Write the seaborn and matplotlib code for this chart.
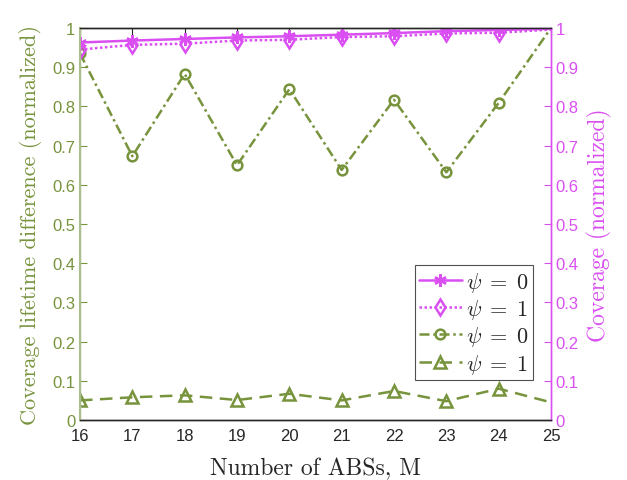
import numpy as np
import pandas as pd
import matplotlib
matplotlib.use("Agg")
import matplotlib.pyplot as plt
from matplotlib.lines import Line2D
import seaborn as sns

# Number of ABSs
num_abs = [16, 17, 18, 19, 20, 21, 22, 23, 24, 25]

# Coverage (normalized), right axis
coverage_psi0 = [0.963, 0.968, 0.972, 0.976, 0.979, 0.983, 0.987, 0.992, 0.995, 0.998]
coverage_psi1 = [0.945, 0.957, 0.960, 0.968, 0.970, 0.977, 0.979, 0.986, 0.988, 0.996]

# Coverage lifetime difference (normalized), left axis
lifetime_psi0 = [0.935, 0.673, 0.883, 0.650, 0.844, 0.638, 0.817, 0.632, 0.809, 1.000]
lifetime_psi1 = [0.050, 0.058, 0.063, 0.051, 0.067, 0.050, 0.074, 0.048, 0.080, 0.045]

legend_labels = [r"$\psi\;=\;0$", r"$\psi\;=\;1$", r"$\psi\;=\;0$", r"$\psi\;=\;1$"]

GREEN = "#77933C"
GREEN_LIGHT = "#A9BE8C"
PINK = "#DA4FF2"

sns.set_theme(style="white")
plt.rcParams["font.family"] = ["Liberation Sans", "DejaVu Sans"]
plt.rcParams["mathtext.fontset"] = "cm"

df = pd.DataFrame({
    "M": num_abs,
    "cov0": coverage_psi0,
    "cov1": coverage_psi1,
    "life0": lifetime_psi0,
    "life1": lifetime_psi1,
})

fig = plt.figure(figsize=(6.27, 4.81), dpi=100)
ax = fig.add_axes([0.1276, 0.1247, 0.7512, 0.815])
ax2 = ax.twinx()

marks = list(range(len(num_abs) - 1))

# series styles: (axis, column, colour, linestyle, marker, markersize, filled)
styles = [
    (ax2, "cov0", PINK, "-", (6, 2, 0), 9, True),
    (ax2, "cov1", PINK, (0, (1, 1)), "d", 8, False),
    (ax, "life0", GREEN, (0, (4, 1.5, 1, 1.5)), "o", 7, False),
    (ax, "life1", GREEN, (0, (5, 3)), "^", 8, False),
]

proxies = []
for (a, col, c, ls, mk, ms, filled), lab in zip(styles, legend_labels):
    kw = dict(color=c, lw=1.8, linestyle=ls, marker=mk, markersize=ms,
              markeredgecolor=c, markeredgewidth=1.8,
              markerfacecolor=c if filled else "none")
    sns.lineplot(data=df, x="M", y=col, ax=a, markevery=marks, legend=False, **kw)
    proxies.append(Line2D([], [], **kw))

for a in (ax, ax2):
    a.set_xlim(16, 25)
    a.set_ylim(0, 1)
    a.set_yticks(np.arange(0, 1.01, 0.1))
    a.set_yticklabels(["0"] + [f"{v:.1f}" for v in np.arange(0.1, 0.95, 0.1)] + ["1"])

ax.set_xticks(num_abs)
ax.set_xticklabels([str(m) for m in num_abs])

ax.tick_params(axis="x", direction="in", length=5, width=0.8, colors="#262626",
               labelsize=12, top=True, pad=6)
ax.tick_params(axis="y", direction="in", length=5, width=0.8, colors=GREEN,
               labelsize=12, left=True, right=False)
ax2.tick_params(axis="y", direction="in", length=5, width=0.8, colors=PINK,
                labelsize=12, right=True, left=False)

for a in (ax, ax2):
    for s in a.spines.values():
        s.set_linewidth(1.0)
    a.spines["top"].set_color("#262626")
    a.spines["bottom"].set_color("#262626")
    a.spines["left"].set_color(GREEN_LIGHT)
    a.spines["right"].set_color(PINK)
ax2.spines["left"].set_linewidth(1.5)

ax.set_xlabel("Number of ABSs, M", fontname="cmr10", fontsize=17, color="#262626", labelpad=10)
ax.set_ylabel("Coverage lifetime difference (normalized)", fontname="cmr10",
              fontsize=16, color=GREEN, labelpad=7)
ax2.set_ylabel("Coverage (normalized)", fontname="cmr10", fontsize=17, color=PINK, labelpad=6)

leg = ax2.legend(proxies, legend_labels,
                 loc="lower right", bbox_to_anchor=(0.962, 0.102),
                 frameon=True, fancybox=False, fontsize=16, handlelength=1.9,
                 handletextpad=0.2, borderpad=0.2, labelspacing=0.15,
                 borderaxespad=0.0, numpoints=1)
leg.get_frame().set_edgecolor("#262626")
leg.get_frame().set_linewidth(0.8)

fig.savefig("out.png", dpi=100)
